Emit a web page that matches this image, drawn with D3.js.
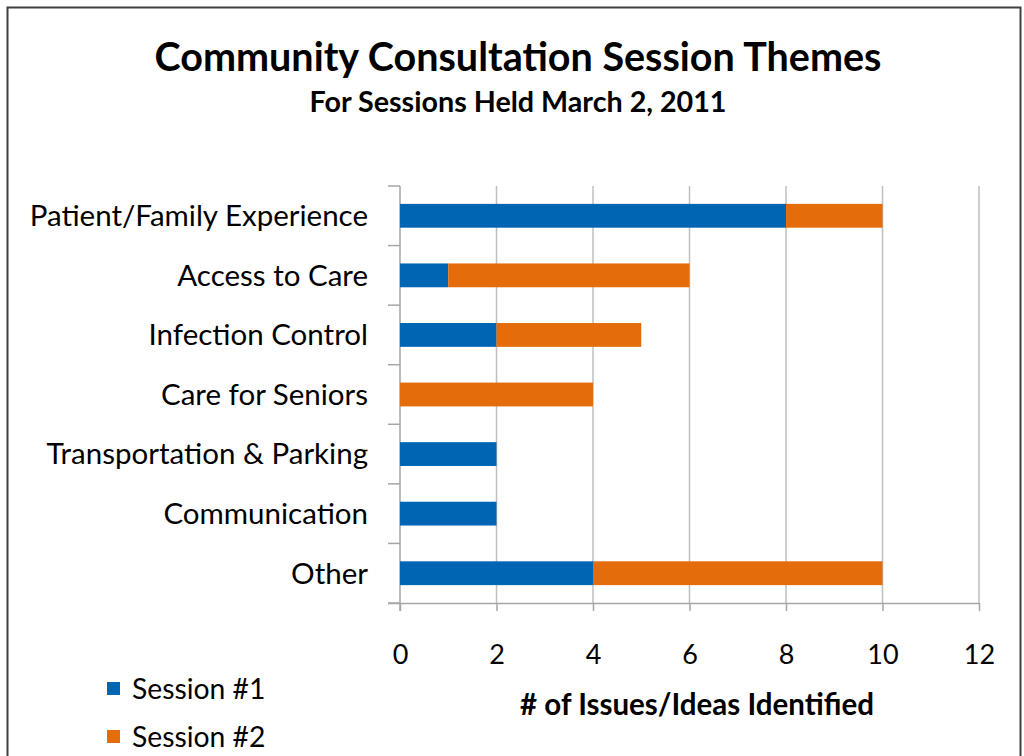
<!DOCTYPE html>
<html>
<head>
<meta charset="utf-8">
<script src="https://cdn.jsdelivr.net/npm/d3@7"></script>
<style>
body { margin: 0; background: #fff; }
text { font-family: Lato, "Open Sans", sans-serif; fill: #000; }
</style>
</head>
<body>
<script>
let categories = ["Patient/Family Experience", "Access to Care", "Infection Control",
    "Care for Seniors", "Transportation & Parking", "Communication", "Other"];
let session1 = [8, 1, 2, 0, 2, 2, 4];
let session2 = [2, 5, 3, 4, 0, 0, 6];
let seriesNames = ["Session #1", "Session #2"];
let xTicks = [0, 2, 4, 6, 8, 10, 12];

let width = 1024;
let height = 756;
let colors = ["#0066b3", "#e46c0a"];

let svg = d3.select("body")
    .append("svg")
    .attr("width", width)
    .attr("height", height);

// outer frame
svg.append("rect")
    .attr("x", 7.5).attr("y", 7.5)
    .attr("width", 1013).attr("height", 760)
    .attr("fill", "none")
    .attr("stroke", "#404040")
    .attr("stroke-width", 2);

svg.append("text")
    .attr("x", 518).attr("y", 71)
    .attr("text-anchor", "middle")
    .style("font-size", "39.5px").style("font-weight", "bold")
    .text("Community Consultation Session Themes");

svg.append("text")
    .attr("x", 518).attr("y", 112)
    .attr("text-anchor", "middle")
    .style("font-size", "28.7px").style("font-weight", "bold")
    .text("For Sessions Held March 2, 2011");

let plotLeft = 400, plotRight = 979, plotTop = 186, plotBottom = 603;

let x = d3.scaleLinear().domain([0, 12]).range([plotLeft, plotRight]);
let y = d3.scaleBand().domain(categories).range([plotTop, plotBottom]).paddingInner(0.6).paddingOuter(0.3);

let rows = categories.map((c, i) => ({ cat: c, s1: session1[i], s2: session2[i] }));
let stacked = d3.stack().keys(["s1", "s2"])(rows);

// gridlines
svg.append("g").selectAll("line")
    .data(xTicks.slice(1))
    .join("line")
    .attr("x1", d => x(d)).attr("x2", d => x(d))
    .attr("y1", plotTop).attr("y2", plotBottom)
    .attr("stroke", "#bfbfbf").attr("stroke-width", 1.5);

// x axis
let xAxis = svg.append("g")
    .attr("transform", `translate(0,${plotBottom})`)
    .call(d3.axisBottom(x).tickValues(xTicks).tickSize(8).tickPadding(34));
xAxis.select(".domain").attr("stroke", "#a6a6a6").attr("stroke-width", 1.5)
    .attr("d", `M${plotLeft - 12},0.5H${plotRight}`);
xAxis.selectAll(".tick line").attr("stroke", "#a6a6a6").attr("stroke-width", 1.5);
xAxis.selectAll(".tick text").style("font-size", "27px").attr("fill", "#000")
    .style("font-family", "Lato, sans-serif");

// y axis line + category separators
let sepY = d3.range(categories.length + 1).map(i => plotTop + i * (plotBottom - plotTop) / categories.length);
svg.append("line")
    .attr("x1", plotLeft).attr("x2", plotLeft)
    .attr("y1", plotTop).attr("y2", plotBottom + 8)
    .attr("stroke", "#a6a6a6").attr("stroke-width", 1.5);
svg.append("g").selectAll("line")
    .data(sepY)
    .join("line")
    .attr("x1", plotLeft - 12).attr("x2", plotLeft)
    .attr("y1", d => d).attr("y2", d => d)
    .attr("stroke", "#a6a6a6").attr("stroke-width", 1.5);

// bars
svg.append("g").selectAll("g")
    .data(stacked)
    .join("g")
    .attr("fill", (d, i) => colors[i])
    .selectAll("rect")
    .data(d => d)
    .join("rect")
    .attr("x", d => x(d[0]))
    .attr("y", d => y(d.data.cat))
    .attr("width", d => x(d[1]) - x(d[0]))
    .attr("height", y.bandwidth());

// category labels
svg.append("g").selectAll("text")
    .data(categories)
    .join("text")
    .attr("x", 368)
    .attr("y", d => y(d) + y.bandwidth() / 2)
    .attr("dy", "0.35em")
    .attr("text-anchor", "end")
    .style("font-size", "29.5px")
    .text(d => d);

svg.append("text")
    .attr("x", 697).attr("y", 715)
    .attr("text-anchor", "middle")
    .style("font-size", "29.5px").style("font-weight", "bold")
    .text("# of Issues/Ideas Identified");

// legend
let legend = svg.append("g").selectAll("g")
    .data(seriesNames)
    .join("g")
    .attr("transform", (d, i) => `translate(107,${689 + i * 48})`);
legend.append("rect")
    .attr("x", 0).attr("y", -7)
    .attr("width", 13).attr("height", 13)
    .attr("fill", (d, i) => colors[i]);
legend.append("text")
    .attr("x", 25).attr("dy", "0.35em")
    .style("font-size", "28.3px")
    .text(d => d);
</script>
</body>
</html>
